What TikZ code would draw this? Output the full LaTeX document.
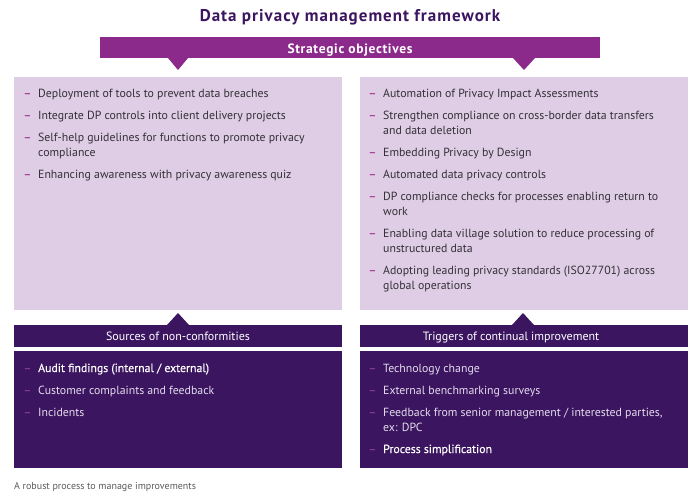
\documentclass[tikz,border=0pt]{standalone}
\usepackage{fontspec}
\setmainfont{PT Sans}
\newfontfamily\semib[FakeBold=0.35]{PT Sans}
\usetikzlibrary{positioning}

\definecolor{dpviolet}{RGB}{140,42,140}
\definecolor{dpnight}{RGB}{59,21,96}
\definecolor{dplilac}{RGB}{222,205,228}
\definecolor{dpgrey}{RGB}{52,48,56}
\definecolor{dpmauve}{RGB}{170,70,150}
\definecolor{dpplum}{RGB}{125,60,145}
\definecolor{dpmist}{RGB}{228,220,236}
\definecolor{dpnote}{RGB}{90,90,90}

% list entry: coloured dash, then lines split by \\
\newcommand{\dpentry}[2]{\llap{\textcolor{#1}{\semib –}\hspace{7pt}}\begin{tabular}[t]{@{}l@{}}#2\end{tabular}}

\begin{document}
\begin{tikzpicture}[x=1pt, y=-1pt,
    every node/.style={inner sep=0pt},
    bodyfont/.style={font=\fontsize{11.8}{15}\selectfont},
    objitem/.style={bodyfont, anchor=base west, text=dpgrey},
    srcitem/.style={bodyfont, anchor=base west, text=dpmist},
    headtext/.style={anchor=base, text=white, font=\fontsize{12}{14}\selectfont}]
  \useasboundingbox (0,0) rectangle (700,496);

  % title and banner
  \node[anchor=base, text=dpnight, font=\fontsize{17}{19}\selectfont\bfseries\addfontfeatures{LetterSpace=6}] (title) at (350,21) {Data privacy management framework};
  \fill[dpviolet] (100,37) rectangle (600,58);
  \fill[dpviolet] (168,58) -- (188,58) -- (178,70) -- cycle;
  \fill[dpviolet] (513,58) -- (535,58) -- (524,70) -- cycle;
  \node[headtext, font=\fontsize{13.5}{15}\selectfont\bfseries\addfontfeatures{LetterSpace=5}] (strat) at (350,53) {Strategic objectives};

  % objective boxes
  \fill[dplilac] (14,77) rectangle (342,310);
  \fill[dplilac] (360,77) rectangle (688,310);
  \foreach \yb/\txt [count=\i] in {97/{Deployment of tools to prevent data breaches},
      119/{Integrate DP controls into client delivery projects},
      141/{Self-help guidelines for functions to promote privacy\\compliance},
      178/{Enhancing awareness with privacy awareness quiz}}
    \node[objitem] (obja\i) at (38,\yb) {\dpentry{dpmauve}{\txt}};
  \foreach \yb/\txt [count=\i] in {97/{Automation of Privacy Impact Assessments},
      119/{Strengthen compliance on cross-border data transfers\\and data deletion},
      156/{Embedding Privacy by Design},
      178/{Automated data privacy controls},
      200/{DP compliance checks for processes enabling return to\\work},
      237/{Enabling data village solution to reduce processing of\\unstructured data},
      274/{Adopting leading privacy standards (ISO27701) across\\global operations}}
    \node[objitem] (objb\i) at (383,\yb) {\dpentry{dpmauve}{\txt}};

  % lower boxes
  \fill[dpnight] (14,325) rectangle (342,347);
  \fill[dpnight] (167,325) -- (189,325) -- (178,313) -- cycle;
  \fill[dpnight] (14,351) rectangle (342,468);
  \fill[dpnight] (360,325) rectangle (688,347);
  \fill[dpnight] (512,325) -- (534,325) -- (523,313) -- cycle;
  \fill[dpnight] (360,351) rectangle (688,468);
  \node[headtext] (srchead) at (178,340) {Sources of non-conformities};
  \node[headtext] (trighead) at (511,340) {Triggers of continual improvement};

  \node[srcitem, text=white] (srca1) at (38,372) {\dpentry{dpplum}{\semib Audit findings (internal / external)}};
  \node[srcitem] (srca2) at (38,394) {\dpentry{dpplum}{Customer complaints and feedback}};
  \node[srcitem] (srca3) at (38,416) {\dpentry{dpplum}{Incidents}};

  \node[srcitem] (trig1) at (383,372) {\dpentry{dpplum}{Technology change}};
  \node[srcitem] (trig2) at (383,394) {\dpentry{dpplum}{External benchmarking surveys}};
  \node[srcitem] (trig3) at (383,416) {\dpentry{dpplum}{Feedback from senior management / interested parties,\\ex: DPC}};
  \node[srcitem, text=white] (trig4) at (383,453) {\dpentry{dpplum}{\semib Process simplification}};

  \node[anchor=base west, text=dpnote, font=\fontsize{10}{12}\selectfont] (note) at (14,489) {A robust process to manage improvements};
\end{tikzpicture}
\end{document}
